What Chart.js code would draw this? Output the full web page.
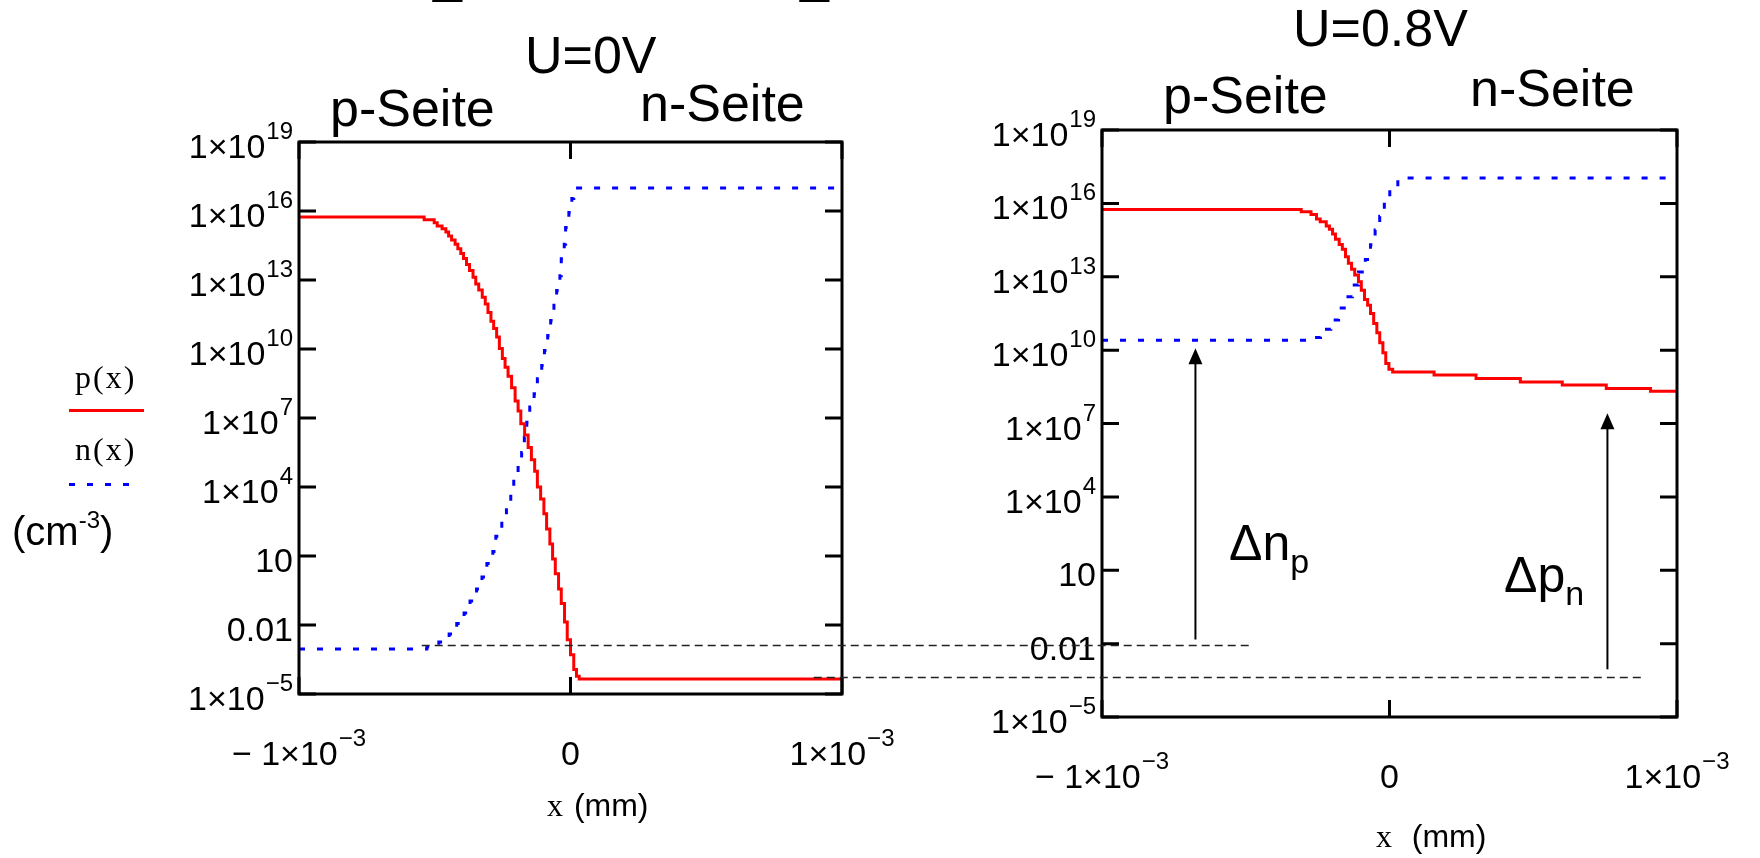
<!DOCTYPE html>
<html lang="de">
<head>
<meta charset="UTF-8">
<title>p(x), n(x) am pn-Übergang</title>
<script src="https://cdn.jsdelivr.net/npm/chart.js"></script>
<style>
  html, body { margin: 0; padding: 0; background: #fff; }
  body { width: 1760px; height: 858px; position: relative; overflow: hidden;
         font-family: "Liberation Sans", Arial, sans-serif; color: #000; }
  canvas { position: absolute; left: 0; top: 0; }
  .t { position: absolute; white-space: nowrap; line-height: 1; }
  .big { font-size: 52px; }
  .var { font-family: "Liberation Serif", "Times New Roman", serif; letter-spacing: 2px; }
</style>
</head>
<body>
  <canvas id="left" width="1760" height="858"></canvas>
  <canvas id="right" width="1760" height="858"></canvas>

  <div class="t big" style="left:433px; top:-52px;">_</div>
  <div class="t big" style="left:800px; top:-52px;">_</div>

  <div class="t big" style="left:525px; top:29px;">U=0V</div>
  <div class="t big" style="left:330px; top:82px;">p-Seite</div>
  <div class="t big" style="left:640px; top:77px;">n-Seite</div>
  <div class="t big" style="left:1293px; top:2px;">U=0.8V</div>
  <div class="t big" style="left:1163px; top:69px;">p-Seite</div>
  <div class="t big" style="left:1470px; top:62px;">n-Seite</div>

  <div class="t var" style="left:75px; top:361px; font-size:32px;">p(x)</div>
  <div class="t var" style="left:75px; top:433px; font-size:32px;">n(x)</div>
  <div class="t" style="left:12px; top:511px; font-size:40px;">(cm<span style="font-size:24px; position:relative; top:-17px;">-3</span>)</div>

  <div class="t" style="left:1229px; top:518px; font-size:50px;">&Delta;n<span style="font-size:34px; position:relative; top:13px;">p</span></div>
  <div class="t" style="left:1504px; top:550px; font-size:50px;">&Delta;p<span style="font-size:34px; position:relative; top:13px;">n</span></div>

  <div class="t" style="left:547px; top:789px; font-size:32px;"><span class="var">x</span> (mm)</div>
  <div class="t" style="left:1376px; top:820px; font-size:32px;"><span class="var">x</span>&nbsp; (mm)</div>

<script>
  const pLeftX = [-1, -0.539, -0.502, -0.491, -0.473, -0.459, -0.449, -0.438, -0.425, -0.415,
    -0.404, -0.394, -0.383, -0.372, -0.359, -0.349, -0.338, -0.325, -0.314, -0.304,
    -0.293, -0.283, -0.272, -0.262, -0.251, -0.241, -0.230, -0.217, -0.204, -0.193,
    -0.183, -0.169, -0.156, -0.144, -0.132, -0.122, -0.110, -0.098, -0.088, -0.076,
    -0.066, -0.056, -0.044, -0.034, -0.022, -0.012, 0.000, 0.012, 0.022, 0.032, 1];
  const pLeftExp = [15.74, 15.62, 15.49, 15.35, 15.23, 15.09, 14.91, 14.74, 14.55, 14.36,
    14.15, 13.93, 13.67, 13.41, 13.12, 12.83, 12.57, 12.25, 11.96, 11.59,
    11.21, 10.89, 10.52, 10.02, 9.59, 9.21, 8.81, 8.32, 7.74, 7.30,
    6.75, 6.26, 5.72, 5.19, 4.68, 4.00, 3.48, 2.84, 2.17, 1.52,
    0.87, 0.23, -0.43, -1.07, -1.87, -2.64, -3.29, -3.94, -4.23, -4.35, -4.35];

  const nLeftX = [-1, -0.529, -0.485, -0.447, -0.419, -0.392, -0.370, -0.346, -0.326, -0.308,
    -0.286, -0.275, -0.253, -0.236, -0.220, -0.209, -0.193, -0.180, -0.170, -0.161,
    -0.150, -0.134, -0.122, -0.106, -0.096, -0.084, -0.073, -0.061, -0.051, -0.039,
    -0.034, -0.023, -0.018, -0.006, 0.005, 0.012, 1];
  const nLeftExp = [-3.04, -2.96, -2.74, -2.39, -1.94, -1.48, -0.96, -0.43, 0.09, 0.67,
    1.20, 1.86, 2.51, 3.09, 3.70, 4.32, 4.93, 5.50, 6.17, 6.81,
    7.48, 8.05, 8.71, 9.28, 9.94, 10.59, 11.24, 11.90, 12.54, 13.19,
    13.92, 14.55, 15.28, 15.93, 16.54, 17.00, 17.00];

  const pRightX = [-1, -0.307, -0.273, -0.254, -0.241, -0.220, -0.209, -0.198, -0.188, -0.175,
    -0.164, -0.153, -0.143, -0.132, -0.121, -0.108, -0.098, -0.087, -0.076, -0.066,
    -0.055, -0.044, -0.034, -0.023, -0.013, -0.002, 0.011, 0.155, 0.301, 0.455,
    0.601, 0.754, 0.908, 1];
  const pRightExp = [15.75, 15.66, 15.55, 15.36, 15.25, 15.07, 14.94, 14.75, 14.53, 14.32,
    14.12, 13.82, 13.55, 13.31, 13.07, 12.80, 12.45, 12.07, 11.83, 11.50,
    11.09, 10.71, 10.30, 9.89, 9.45, 9.22, 9.11, 8.98, 8.84, 8.70,
    8.57, 8.43, 8.32, 8.32];

  const nRightX = [-1, -0.277, -0.240, -0.204, -0.177, -0.151, -0.129, -0.108, -0.084, -0.066,
    -0.050, -0.034, -0.018, 0.001, 0.029, 1];
  const nRightExp = [10.40, 10.52, 10.85, 11.23, 11.72, 12.18, 12.66, 13.19, 13.71, 14.31,
    14.91, 15.47, 16.05, 16.65, 17.04, 17.04];

  const yTickExps = [19, 16, 13, 10, 7, 4, 1, -2, -5];
  const yTickLabels = [['1×10', '19'], ['1×10', '16'], ['1×10', '13'], ['1×10', '10'],
    ['1×10', '7'], ['1×10', '4'], ['10', ''], ['0.01', ''], ['1×10', '−5']];
  const xTicks = [-1e-3, 0, 1e-3];
  const xTickLabels = [['− 1×10', '−3'], ['0', ''], ['1×10', '−3']];

  // dashed reference levels: [exponent in left plot, x start left (µm), x end right (µm)]
  const levels = [[-2.89, -0.548, -0.489], [-4.28, 0.896, 0.878]];
  // arrows in the right plot: [x (µm), from exponent, to exponent]
  const arrows = [[-0.675, -1.83, 10.08], [0.758, -3.05, 7.42]];

  const pts = (xs, es) => xs.map((x, i) => ({ x: x / 1000, y: Math.pow(10, es[i]) }));

  const MAIN = '34px "Liberation Sans", Arial, sans-serif';
  const SUP = '24px "Liberation Sans", Arial, sans-serif';

  function supLabel(ctx, parts, x, baseline, align) {
    const [main, sup] = parts;
    ctx.font = MAIN;
    const wm = ctx.measureText(main).width;
    ctx.font = SUP;
    const ws = sup ? ctx.measureText(sup).width + 1 : 0;
    const x0 = align === 'right' ? x - wm - ws : x - (wm + ws) / 2;
    ctx.textAlign = 'left';
    ctx.textBaseline = 'alphabetic';
    ctx.font = MAIN;
    ctx.fillText(main, x0, baseline);
    if (sup) {
      ctx.font = SUP;
      ctx.fillText(sup, x0 + wm + 1, baseline - 19);
    }
  }

  const mathcadAxes = {
    id: 'mathcadAxes',
    afterDatasetsDraw(chart, args, opts) {
      const { ctx, chartArea: a, scales: { x, y } } = chart;
      ctx.save();
      ctx.strokeStyle = '#000';
      ctx.fillStyle = '#000';
      ctx.lineWidth = 3;
      ctx.strokeRect(a.left, a.top, a.right - a.left, a.bottom - a.top);
      yTickExps.forEach((e, i) => {
        const py = y.getPixelForValue(Math.pow(10, e));
        ctx.beginPath();
        ctx.moveTo(a.left, py); ctx.lineTo(a.left + 17, py);
        ctx.moveTo(a.right, py); ctx.lineTo(a.right - 17, py);
        ctx.stroke();
        supLabel(ctx, yTickLabels[i], a.left - 6, py + 16, 'right');
      });
      xTicks.forEach((v, i) => {
        const px = x.getPixelForValue(v);
        ctx.beginPath();
        ctx.moveTo(px, a.top); ctx.lineTo(px, a.top + 17);
        ctx.moveTo(px, a.bottom); ctx.lineTo(px, a.bottom - 17);
        ctx.stroke();
        supLabel(ctx, xTickLabels[i], px, a.bottom + opts.xLabelDy, 'center');
      });
      if (opts.legend) {
        chart.data.datasets.forEach((ds, i) => {
          const [lx, ly, lw] = opts.legend[i];
          ctx.strokeStyle = ds.borderColor;
          ctx.lineWidth = ds.borderWidth;
          ctx.setLineDash(ds.borderDash || []);
          ctx.beginPath(); ctx.moveTo(lx, ly); ctx.lineTo(lx + lw, ly); ctx.stroke();
        });
        ctx.setLineDash([]);
      }
      ctx.restore();
    }
  };

  function makeChart(id, pData, nData, padding, axesOpts, extra) {
    return new Chart(document.getElementById(id), {
      type: 'line',
      data: {
        datasets: [
          { label: 'p(x)', data: pData, borderColor: '#ff0000', borderWidth: 3,
            stepped: true, pointRadius: 0, fill: false },
          { label: 'n(x)', data: nData, borderColor: '#0000ff', borderWidth: 3,
            borderDash: [6, 12], stepped: true, pointRadius: 0, fill: false }
        ]
      },
      options: {
        responsive: false,
        animation: false,
        devicePixelRatio: 1,
        events: [],
        layout: { padding: padding },
        scales: {
          x: { type: 'linear', min: -1e-3, max: 1e-3, display: false },
          y: { type: 'logarithmic', min: 1e-5, max: 1e19, display: false }
        },
        plugins: {
          legend: { display: false },
          tooltip: { enabled: false },
          mathcadAxes: axesOpts
        }
      },
      plugins: [mathcadAxes].concat(extra || [])
    });
  }

  const leftChart = makeChart('left', pts(pLeftX, pLeftExp), pts(nLeftX, nLeftExp),
    { left: 299, right: 918, top: 142, bottom: 164 },
    { xLabelDy: 71, legend: [[69, 410.5, 75], [69, 484.5, 62]] });

  const annotations = {
    id: 'annotations',
    afterDatasetsDraw(chart) {
      const { ctx, scales: { x, y } } = chart;
      const lx = leftChart.scales.x, ly = leftChart.scales.y;
      ctx.save();
      ctx.strokeStyle = '#222';
      ctx.lineWidth = 1.6;
      ctx.setLineDash([8, 5]);
      levels.forEach(([e, x0, x1]) => {
        const py = Math.round(ly.getPixelForValue(Math.pow(10, e))) + 0.5;
        ctx.beginPath();
        ctx.moveTo(lx.getPixelForValue(x0 / 1000), py);
        ctx.lineTo(x.getPixelForValue(x1 / 1000), py);
        ctx.stroke();
      });
      ctx.setLineDash([]);
      ctx.strokeStyle = '#000';
      ctx.fillStyle = '#000';
      ctx.lineWidth = 2;
      arrows.forEach(([xv, e0, e1]) => {
        const px = x.getPixelForValue(xv / 1000);
        const y0 = y.getPixelForValue(Math.pow(10, e0));
        const y1 = y.getPixelForValue(Math.pow(10, e1));
        ctx.beginPath(); ctx.moveTo(px, y0); ctx.lineTo(px, y1 + 12); ctx.stroke();
        ctx.beginPath();
        ctx.moveTo(px, y1); ctx.lineTo(px - 7, y1 + 16); ctx.lineTo(px + 7, y1 + 16);
        ctx.closePath(); ctx.fill();
      });
      ctx.restore();
    }
  };

  const rightChart = makeChart('right', pts(pRightX, pRightExp), pts(nRightX, nRightExp),
    { left: 1102, right: 83, top: 130, bottom: 141 },
    { xLabelDy: 71 }, [annotations]);
</script>
</body>
</html>
